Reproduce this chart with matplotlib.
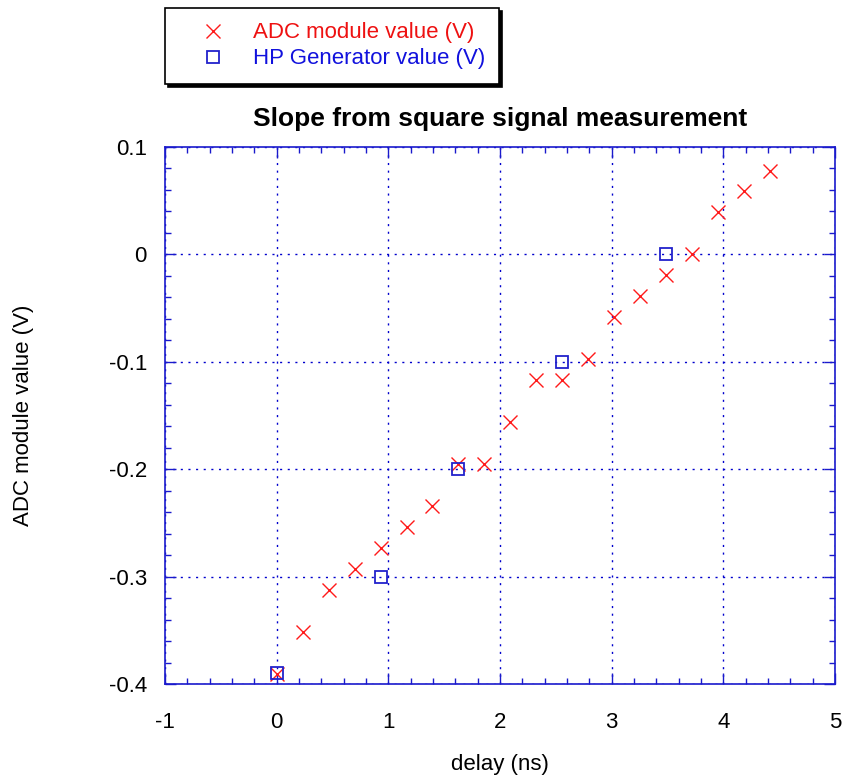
import matplotlib
matplotlib.use("Agg")
import matplotlib.pyplot as plt
from matplotlib.ticker import MultipleLocator

plt.rcParams['font.family'] = ['Liberation Sans', 'DejaVu Sans']
plt.rcParams['axes.unicode_minus'] = False

# ADC module readings (V) against delay (ns)
adc_delay = [0.0, 0.233, 0.465, 0.698, 0.930, 1.163, 1.395, 1.628, 1.861, 2.093,
             2.326, 2.559, 2.791, 3.024, 3.256, 3.489, 3.722, 3.954, 4.187, 4.419]
adc_value = [-0.3906, -0.3516, -0.3125, -0.2930, -0.2734, -0.2539, -0.2344, -0.1953,
             -0.1953, -0.1563, -0.1172, -0.1172, -0.0977, -0.0586, -0.0391, -0.0195,
             0.0, 0.0391, 0.0586, 0.0781]

# HP generator settings (V)
hp_delay = [0.0, 0.930, 1.628, 2.559, 3.489]
hp_value = [-0.39, -0.30, -0.20, -0.10, 0.0]

x_ticks = [-1, 0, 1, 2, 3, 4, 5]
y_ticks = [-0.4, -0.3, -0.2, -0.1, 0, 0.1]
y_tick_labels = ['-0.4', '-0.3', '-0.2', '-0.1', '0', '0.1']

axis_blue = '#1a1acc'

fig = plt.figure(figsize=(8.46, 7.81), dpi=100)
ax = fig.add_axes([165 / 846, 1 - 684 / 781, 670 / 846, 537 / 781])

ax.plot(adc_delay, adc_value, linestyle='none', marker='x', markersize=9.5,
        markeredgewidth=1.0, color='#ff1a1a', label='ADC module value (V)', zorder=3)
ax.plot(hp_delay, hp_value, linestyle='none', marker='s', markersize=8.5,
        markeredgewidth=1.3, markerfacecolor='none', markeredgecolor='#2222cc',
        label='HP Generator value (V)', zorder=3)

ax.set_xlim(-1, 5)
ax.set_ylim(-0.4, 0.1)
ax.set_xticks(x_ticks)
ax.set_yticks(y_ticks)
ax.set_yticklabels(y_tick_labels)
ax.xaxis.set_minor_locator(MultipleLocator(0.2))
ax.yaxis.set_minor_locator(MultipleLocator(0.02))

ax.tick_params(which='both', direction='in', top=True, right=True, color=axis_blue,
               labelsize=16, labelcolor='black')
ax.tick_params(which='major', length=8, width=1.0)
ax.tick_params(which='minor', length=4, width=1.0)
ax.tick_params(axis='x', which='major', pad=20)
ax.tick_params(axis='y', which='major', pad=13)
for side in ax.spines.values():
    side.set_color(axis_blue)
    side.set_linewidth(1.2)

ax.grid(True, which='major', color='#0000cc', linestyle=(0, (1.5, 4)), linewidth=1.0)

ax.set_title('Slope from square signal measurement', fontsize=19, fontweight='bold', pad=15)
ax.set_xlabel('delay (ns)', fontsize=16, labelpad=15)
ax.set_ylabel('ADC module value (V)', fontsize=16, labelpad=54)

leg = fig.legend(loc='upper left', bbox_to_anchor=(165 / 846, 1 - 8 / 781),
                 fontsize=16, frameon=True, fancybox=False, edgecolor='black',
                 framealpha=1, shadow={'color': 'black', 'alpha': 1},
                 labelcolor=['#ee1111', '#1111dd'], handlelength=3.0,
                 handletextpad=0.3, borderpad=0.65, labelspacing=0.22,
                 borderaxespad=0)
leg.get_frame().set_linewidth(1.2)

fig.savefig('out.png', dpi=100)
